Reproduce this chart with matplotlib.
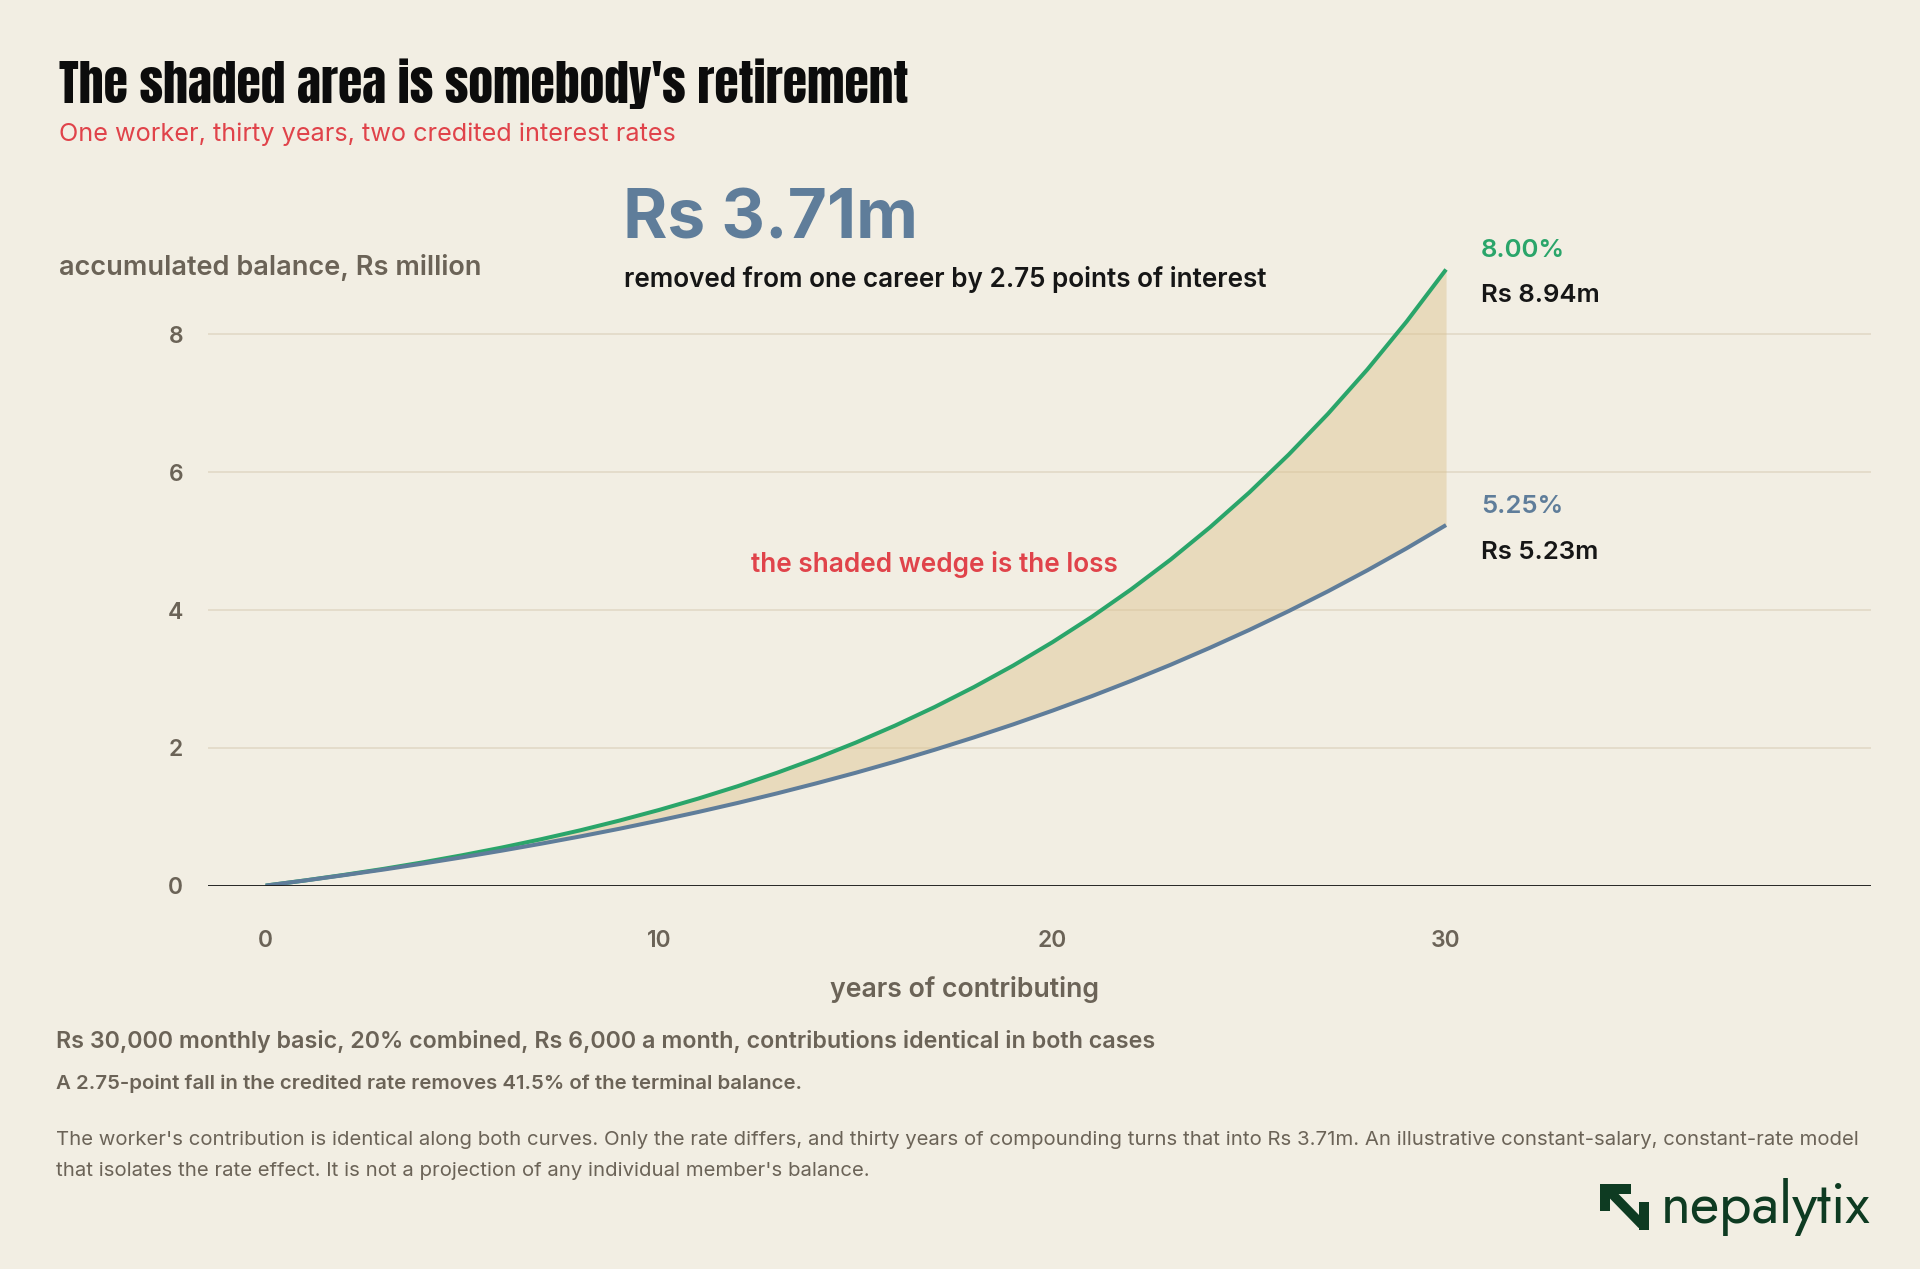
import matplotlib
matplotlib.use("Agg")
import matplotlib.pyplot as plt
from matplotlib.patches import Polygon

# ---- data ----
years = list(range(0, 31))
balance_800 = [0.0, 0.075, 0.156, 0.243, 0.338, 0.441, 0.552, 0.673, 0.803, 0.945,
               1.098, 1.264, 1.443, 1.638, 1.848, 2.076, 2.323, 2.591, 2.881, 3.194,
               3.534, 3.902, 4.301, 4.732, 5.200, 5.706, 6.255, 6.848, 7.491, 8.188, 8.942]
balance_525 = [0.0, 0.074, 0.152, 0.233, 0.320, 0.411, 0.507, 0.608, 0.714, 0.826,
               0.945, 1.069, 1.200, 1.339, 1.485, 1.638, 1.800, 1.971, 2.151, 2.340,
               2.540, 2.750, 2.972, 3.205, 3.452, 3.711, 3.984, 4.272, 4.576, 4.896, 5.233]
rate_labels = ["8.00%", "5.25%"]
end_labels = ["Rs 8.94m", "Rs 5.23m"]
y_ticks = [0, 2, 4, 6, 8]
x_ticks = [0, 10, 20, 30]

BG = "#f2eee3"
GREEN = "#2aa56a"
BLUE = "#5f7d9a"
RED = "#e0434a"
GRAY = "#6b6357"
DARK = "#161616"
FILL = "#dcc28e"
LOGO = "#0e3b22"

BODY = ["Inter", "DejaVu Sans"]
TITLE = ["Anton", "Oswald", "Barlow Condensed", "DejaVu Sans"]
LOGOF = ["Jost", "Outfit", "Inter", "DejaVu Sans"]

W, H = 1568, 1036  # reference layout grid
SC = 1920 / W      # grid unit -> output pixel

def fx(x):
    return x / W

def fy(y):
    return 1 - y / H

fig = plt.figure(figsize=(19.2, 12.69), dpi=100, facecolor=BG)
renderer = fig.canvas.get_renderer()

def fit(t, target):
    """scale a text's size so its width matches the reference width (grid units)."""
    bb = t.get_window_extent(renderer)
    if bb.width > 0:
        t.set_fontsize(t.get_fontsize() * target * SC / bb.width)
    return t

ax = fig.add_axes([fx(170), fy(723), fx(1528) - fx(170), fy(216.75) - fy(723)])
ax.set_facecolor(BG)
ax.set_xlim(-1.46, 40.8)
ax.set_ylim(0, 9)
for s in ax.spines.values():
    s.set_visible(False)

for yv in y_ticks[1:]:
    ax.axhline(yv, color="#e1d7c4", lw=1.1, zorder=1)
ax.axhline(0, color=DARK, lw=1.3, zorder=4)

ax.fill_between(years, balance_525, balance_800, color=FILL, alpha=0.45, lw=0, zorder=2)
ax.plot(years, balance_800, color=GREEN, lw=2.9, zorder=3, solid_capstyle="butt")
ax.plot(years, balance_525, color=BLUE, lw=2.9, zorder=3, solid_capstyle="butt")

ax.set_yticks(y_ticks)
ax.set_yticklabels([str(v) for v in y_ticks], fontfamily=BODY, fontsize=16.5,
                   fontweight="semibold", color=GRAY)
ax.set_xticks(x_ticks)
ax.set_xticklabels([str(v) for v in x_ticks], fontfamily=BODY, fontsize=16.5,
                   fontweight="semibold", color=GRAY)
ax.tick_params(axis="both", length=0)
ax.tick_params(axis="y", pad=18)
ax.tick_params(axis="x", pad=32)

lab = dict(textcoords="offset pixels", fontfamily=BODY, fontsize=18.5, fontweight="semibold",
           va="center", ha="left")
a1 = ax.annotate(rate_labels[0], (years[-1], balance_800[-1]), xytext=(35, 19), color=GREEN, **lab)
a2 = ax.annotate(end_labels[0], (years[-1], balance_800[-1]), xytext=(35, -26), color=DARK, **lab)
a3 = ax.annotate(rate_labels[1], (years[-1], balance_525[-1]), xytext=(35, 19), color=BLUE, **lab)
a4 = ax.annotate(end_labels[1], (years[-1], balance_525[-1]), xytext=(35, -27), color=DARK, **lab)
fit(a2, 97)
for a in (a1, a3, a4):
    a.set_fontsize(a2.get_fontsize())

fit(fig.text(fx(613), fy(461), "the shaded wedge is the loss", fontfamily=BODY, fontsize=18.8,
             fontweight="semibold", color=RED, va="center", ha="left"), 300)

# titles
fit(fig.text(fx(48), fy(68), "The shaded area is somebody's retirement", fontfamily=TITLE,
             fontsize=44, color="#0c0c0c", va="center", ha="left"), 692)
fit(fig.text(fx(48), fy(110), "One worker, thirty years, two credited interest rates",
             fontfamily=BODY, fontsize=19, color=RED, va="center", ha="left"), 503)
fit(fig.text(fx(48), fy(218), "accumulated balance, Rs million", fontfamily=BODY, fontsize=18.8,
             fontweight="semibold", color=GRAY, va="center", ha="left"), 345)

fit(fig.text(fx(509), fy(180), "Rs 3.71m", fontfamily=BODY, fontsize=50, fontweight="bold",
             color=BLUE, va="center", ha="left"), 241)
fit(fig.text(fx(510), fy(228), "removed from one career by 2.75 points of interest",
             fontfamily=BODY, fontsize=18.8, fontweight="semibold", color=DARK, va="center",
             ha="left"), 525)

fit(fig.text(fx(788), fy(808), "years of contributing", fontfamily=BODY, fontsize=19,
             fontweight="semibold", color=GRAY, va="center", ha="center"), 220)

# footnotes
fit(fig.text(fx(46), fy(850), "Rs 30,000 monthly basic, 20% combined, Rs 6,000 a month, contributions identical in both cases",
             fontfamily=BODY, fontsize=16.8, fontweight="semibold", color=GRAY, va="center",
             ha="left"), 898)
fit(fig.text(fx(46), fy(885), "A 2.75-point fall in the credited rate removes 41.5% of the terminal balance.",
             fontfamily=BODY, fontsize=14.7, fontweight="semibold", color=GRAY, va="center",
             ha="left"), 609)
p1 = fit(fig.text(fx(46), fy(931), "The worker's contribution is identical along both curves. Only the rate differs, and thirty years of compounding turns that into Rs 3.71m. An illustrative constant-salary, constant-rate model",
                  fontfamily=BODY, fontsize=14.7, color=GRAY, va="center", ha="left"), 1472)
fig.text(fx(46), fy(956), "that isolates the rate effect. It is not a projection of any individual member's balance.",
         fontfamily=BODY, fontsize=p1.get_fontsize(), color=GRAY, va="center", ha="left")

# logo
lax = fig.add_axes([fx(1307), fy(1004), fx(1347) - fx(1307), fy(967) - fy(1004)])
lax.set_xlim(0, 1)
lax.set_ylim(0, 1)
lax.axis("off")
lax.add_patch(Polygon([(0, 1), (0.62, 1), (0.62, 0.8), (0.2, 0.8), (0.2, 0.42), (0, 0.42)],
                      closed=True, color=LOGO, lw=0))
lax.add_patch(Polygon([(0.06, 0.84), (0.2, 0.98), (0.92, 0.18), (0.78, 0.04)],
                      closed=True, color=LOGO, lw=0))
lax.add_patch(Polygon([(0.78, 0.0), (1.0, 0.0), (1.0, 0.62), (0.78, 0.62)],
                      closed=True, color=LOGO, lw=0))
fit(fig.text(fx(1356), fy(985), "nepalytix", fontfamily=LOGOF, fontsize=34, color=LOGO,
             va="center", ha="left"), 171)

fig.savefig("out.png", dpi=100, facecolor=BG)
